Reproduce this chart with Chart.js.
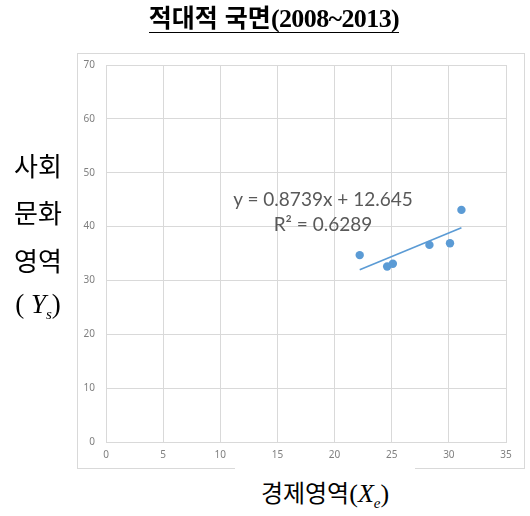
<!DOCTYPE html>
<html lang="ko">
<head>
<meta charset="utf-8">
<title>적대적 국면(2008~2013)</title>
<script src="https://cdn.jsdelivr.net/npm/chart.js@4"></script>
<style>
  html, body { margin: 0; padding: 0; background: #fff; }
  #wrap { position: relative; width: 530px; height: 516px; overflow: hidden; }
  #frame { position: absolute; left: 77px; top: 53px; width: 446px; height: 414px; border: 1px solid #d9d9d9; }
  canvas { position: absolute; left: 0; top: 0; }
  .txt { position: absolute; white-space: nowrap; color: #000; }
  #title { left: 0; width: 548px; top: -2px; text-align: center; font-size: 25px; }
  #title .ko { font-family: "Noto Sans CJK KR"; font-weight: bold; }
  #title .num { font-family: "Liberation Serif"; font-weight: bold; letter-spacing: -0.6px; font-size: 26px; }
  #title span.u { border-bottom: 1.5px solid #000; }
  .ylab { left: 8px; width: 60px; text-align: center; font-family: "Noto Sans CJK KR"; font-size: 26px; }
  #xlab { left: 235px; width: 180px; top: 466px; height: 50px; background: #fff; text-align: center; font-family: "Noto Sans CJK KR"; font-size: 24px; line-height: 52px; }
  .serif { font-family: "Liberation Serif"; }
  .eq { font-family: "Lato", "Open Sans"; font-size: 19px; color: #595959; text-align: center; width: 240px; }
</style>
</head>
<body>
<div id="wrap">
  <div id="frame"></div>
  <canvas id="scatter" width="530" height="516"></canvas>
  <div id="title" class="txt"><span class="u"><span class="ko">적대적 국면</span><span class="num">(2008~2013)</span></span></div>
  <div class="txt ylab" style="top:146px">사회</div>
  <div class="txt ylab" style="top:193px">문화</div>
  <div class="txt ylab" style="top:241px">영역</div>
  <div class="txt ylab serif" style="top:289px; font-size:27px">( <i>Y</i><sub style="font-size:15px"><i>s</i></sub>)</div>
  <div id="xlab" class="txt">경제영역<span class="serif" style="font-size:26px">(<i>X</i><sub style="font-size:15px"><i>e</i></sub>)</span></div>
  <div class="txt eq" style="left:203px; top:187px">y = 0.8739x + 12.645</div>
  <div class="txt eq" style="left:203px; top:212px">R² = 0.6289</div>
</div>
<script>
  // observed points (economic area X_e vs socio-cultural area Y_s)
  const xValues = [22.2, 24.6, 25.1, 28.3, 30.1, 31.1];
  const yValues = [34.7, 32.6, 33.1, 36.6, 36.9, 43.1];

  // linear trendline end points
  const trendX = [22.2, 31.1];
  const trendY = [32.0, 39.8];

  const xTicks = [0, 5, 10, 15, 20, 25, 30, 35];
  const yTicks = [0, 10, 20, 30, 40, 50, 60, 70];

  const points = xValues.map((x, i) => ({ x: x, y: yValues[i] }));
  const trend = trendX.map((x, i) => ({ x: x, y: trendY[i] }));

  const gridColor = '#d9d9d9';
  const tickFont = { family: 'Noto Sans', size: 10 };

  const config = {
    type: 'scatter',
    data: {
      datasets: [
        {
          label: 'data',
          data: points,
          backgroundColor: '#5b9bd5',
          borderColor: '#5b9bd5',
          pointRadius: 4.2,
          pointBorderWidth: 0
        },
        {
          label: 'trend',
          type: 'line',
          data: trend,
          borderColor: '#5b9bd5',
          borderWidth: 1.6,
          pointRadius: 0,
          fill: false
        }
      ]
    },
    options: {
      responsive: false,
      animation: false,
      events: [],
      layout: { padding: { left: 0, top: 65, right: 24, bottom: 0 } },
      plugins: {
        legend: { display: false },
        tooltip: { enabled: false },
        title: { display: false }
      },
      scales: {
        x: {
          type: 'linear',
          min: 0,
          max: 35,
          afterBuildTicks: (scale) => { scale.ticks = xTicks.map(v => ({ value: v })); },
          afterFit: (scale) => { scale.height = 74; },
          grid: { color: gridColor, drawTicks: false },
          border: { color: gridColor },
          ticks: { color: '#7f7f7f', font: tickFont, padding: 7 }
        },
        y: {
          type: 'linear',
          min: 0,
          max: 70,
          afterBuildTicks: (scale) => { scale.ticks = yTicks.map(v => ({ value: v })); },
          afterFit: (scale) => { scale.width = 106; },
          grid: { color: gridColor, drawTicks: false },
          border: { color: gridColor },
          ticks: { color: '#7f7f7f', font: tickFont, padding: 11 }
        }
      }
    }
  };

  const ctx = document.getElementById('scatter').getContext('2d');
  new Chart(ctx, config);
</script>
</body>
</html>
